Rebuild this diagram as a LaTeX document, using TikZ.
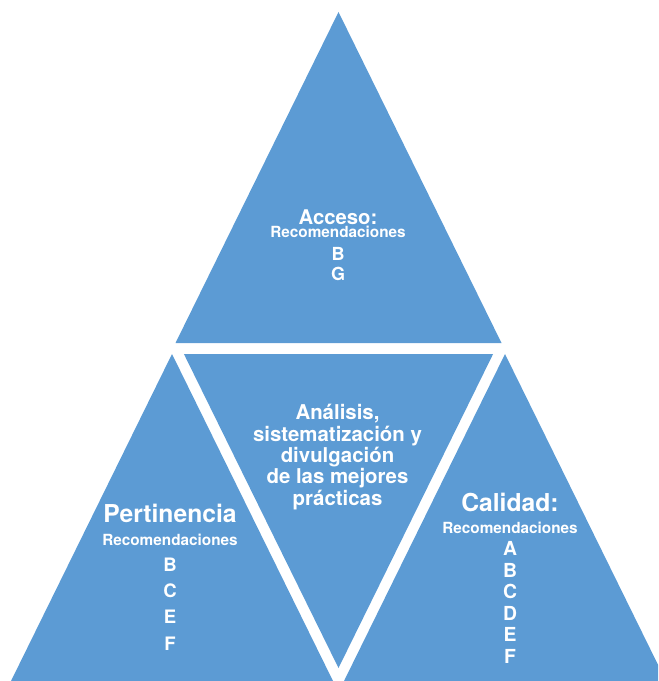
\documentclass[tikz,border=0pt]{standalone}
\usepackage{fontspec}
\setmainfont{TeX Gyre Heros}
\usepackage{tikz}
\usetikzlibrary{positioning}
\definecolor{triblue}{RGB}{92, 155, 212}

\tikzset{
  tri/.style={fill=triblue, draw=none},
  txt/.style={text=white, inner sep=0pt, align=center, anchor=base},
  head/.style={txt, font=\bfseries\fontsize{18.5}{20}\selectfont},
  rec/.style={txt, font=\bfseries\fontsize{11.5}{13}\selectfont},
}

\begin{document}
\begin{tikzpicture}[x=0.75pt, y=-0.75pt]
  \useasboundingbox (0, 0) rectangle (658, 681);

  % triangles
  \begin{scope}
    \clip (0, 0) rectangle (658, 681);
    \fill[tri] (338.5, 12) -- (175.5, 343) -- (501.5, 343) -- cycle;
    \fill[tri] (183.9, 354) -- (493.1, 354) -- (338.5, 668) -- cycle;
    \fill[tri] (172, 354) -- (333, 681) -- (11, 681) -- cycle;
    \fill[tri] (505, 354) -- (666, 681) -- (344, 681) -- cycle;
  \end{scope}

  % Acceso (base = last line)
  \node[txt, font=\bfseries\fontsize{15.2}{17}\selectfont] (acceso) at (338, 224.5) {Acceso:};
  \node[rec] (accesorec) at (338, 237.7) {Recomendaciones};
  \node[txt, font=\bfseries\fontsize{13.5}{14.85}\selectfont] (accesolist) at (338, 280.5) {B\\G};

  % centre
  \node[txt, font=\bfseries\fontsize{15.3}{15.94}\selectfont] (practicas) at (337.5, 505) {
    Análisis,\\sistematización y\\divulgación\\de las mejores\\prácticas
  };

  % Pertinencia
  \node[head] (pertinencia) at (170, 522.3) {Pertinencia};
  \node[rec] (pertinenciarec) at (170, 545) {Recomendaciones};
  \node[txt, font=\bfseries\fontsize{13.9}{19.6}\selectfont] (pertinencialist) at (170, 650) {B\\C\\E\\F};

  % Calidad
  \node[head] (calidad) at (510, 511.7) {Calidad:};
  \node[rec] (calidadrec) at (510, 533.3) {Recomendaciones};
  \node[txt, font=\bfseries\fontsize{14.5}{16.1}\selectfont] (calidadlist) at (510, 663.3) {A\\B\\C\\D\\E\\F};
\end{tikzpicture}
\end{document}
